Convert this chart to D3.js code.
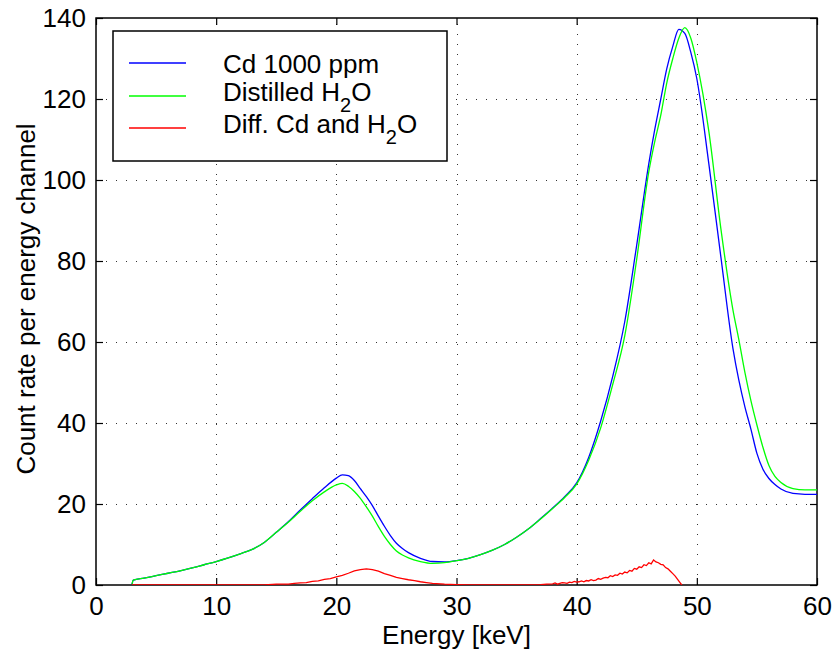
<!DOCTYPE html>
<html>
<head>
<meta charset="utf-8">
<script src="https://cdn.jsdelivr.net/npm/d3@7"></script>
<style>
  body { margin: 0; background: #fff; }
  svg text { font-family: "Liberation Sans", Arial, Helvetica, sans-serif; fill: #000; }
</style>
</head>
<body>
<svg id="chart" width="832" height="652"></svg>
<script>
// energy channels (keV) for the two measured spectra
const energy = [3, 3.1, 4, 5, 6, 7, 8, 9, 10, 11, 12, 13, 14, 15, 16, 17, 18, 19, 20,
  20.5, 21, 21.5, 22, 22.5, 23, 23.5, 24, 24.5, 25, 25.5,
  26, 27, 28, 29, 30, 31, 32, 33, 34, 35, 36, 37, 38, 39, 40, 41, 42, 43, 44, 45, 46,
  46.5, 47, 47.5, 48, 48.5, 49, 49.5, 50, 51, 52, 53,
  53.5, 54, 54.5, 55, 55.5, 56, 56.5, 57, 58, 59, 60]
const cd1000 = [0.2, 1.2, 1.7, 2.3, 2.9, 3.5, 4.2, 5.0, 5.8, 6.7, 7.7, 8.8, 10.5, 13.0, 15.6, 18.5, 21.3, 24.0, 26.4,
  27.2, 27.0, 25.8, 23.8, 21.8, 19.6, 17.0, 14.5, 12.2, 10.3, 9.0,
  8.0, 6.6, 5.8, 5.7, 6.0, 6.6, 7.5, 8.6, 10.0, 11.8, 13.9, 16.4, 19.0, 21.8, 25.2, 31.5, 40.5, 51.5, 65, 84, 104,
  112.5, 120, 127.5, 133, 137.2, 136.2, 131.5, 125, 104, 81, 58.5,
  50.5, 44, 38.5, 32.5, 28.6, 26.3, 24.8, 23.7, 22.6, 22.4, 22.4]
const water = [0.2, 1.2, 1.7, 2.3, 2.9, 3.5, 4.2, 5.0, 5.8, 6.7, 7.7, 8.8, 10.5, 13.0, 15.5, 18.2, 20.8, 23.0, 24.7,
  25.1, 24.4, 23.1, 21.4, 19.3, 17.0, 14.4, 12.0, 10.0, 8.4, 7.4,
  6.7, 5.8, 5.35, 5.5, 6.0, 6.6, 7.5, 8.6, 10.0, 11.8, 13.9, 16.3, 18.9, 21.6, 24.9, 30.8, 38.8, 49.5, 61.5, 80.5, 102,
  109.5, 116, 124, 130, 135, 137.6, 135, 129, 112, 88, 68,
  60.5, 52.5, 45.5, 39.5, 34, 29.5, 26.8, 25.3, 23.8, 23.5, 23.5]

const diffEnergy = [3, 14, 15, 16, 16.5, 17, 17.5, 18, 18.5, 19, 19.5, 20, 20.5, 21, 21.5, 22, 22.5, 23, 23.5, 24,
  24.5, 25, 25.5, 26, 26.5, 27, 27.5, 28, 29, 30, 31, 36, 37, 37.5,
  38.0, 38.2, 38.4, 38.6, 38.8, 39.0, 39.2, 39.4, 39.6, 39.8, 40.0, 40.2, 40.4, 40.6, 40.8, 41.0, 41.2, 41.4, 41.6, 41.8,
  42.0, 42.2, 42.4, 42.6, 42.8, 43.0, 43.2, 43.4, 43.6, 43.8, 44.0, 44.2, 44.4, 44.6, 44.8, 45.0, 45.2, 45.4, 45.6, 45.8,
  46.0, 46.2, 46.4, 46.6, 46.8, 47.0, 47.2, 47.4, 47.6, 47.8, 48.0, 48.2, 48.4, 48.6, 48.75]
const diffCd = [0, 0, 0.2, 0.2, 0.4, 0.5, 0.6, 0.9, 1.0, 1.4, 1.6, 2.0, 2.4, 2.9, 3.5, 3.8, 4.0, 3.8, 3.4, 2.8,
  2.4, 1.9, 1.6, 1.3, 1.1, 0.8, 0.6, 0.4, 0.2, 0.1, 0, 0, 0.1, 0.2,
  0.3, 0.5, 0.2, 0.4, 0.6, 0.5, 0.4, 0.7, 0.6, 0.9, 0.7, 0.8, 1.0, 0.8, 1.1, 1.0, 1.3, 1.1, 1.2, 1.6,
  1.4, 1.7, 1.9, 1.8, 2.3, 2.1, 2.5, 2.4, 2.9, 2.7, 3.2, 3.0, 3.6, 3.4, 4.1, 3.9, 4.5, 4.3, 5.0, 4.8,
  5.5, 5.2, 6.2, 5.7, 5.5, 5.1, 5.0, 4.3, 4.0, 3.4, 2.8, 2.2, 1.4, 0.6, 0]

const xTicks = [0, 10, 20, 30, 40, 50, 60]
const yTicks = [0, 20, 40, 60, 80, 100, 120, 140]

const plotLeft = 96, plotRight = 817, plotTop = 18, plotBottom = 585

const svg = d3.select('#chart')

const x = d3.scaleLinear().domain([0, 60]).range([plotLeft, plotRight])
const y = d3.scaleLinear().domain([0, 140]).range([plotBottom, plotTop])

svg.append('clipPath').attr('id', 'plotclip')
  .append('rect').attr('x', plotLeft).attr('y', plotTop).attr('width', plotRight - plotLeft).attr('height', plotBottom - plotTop)

// dotted grid
const grid = svg.append('g').attr('stroke', '#333').attr('stroke-width', 1).attr('stroke-dasharray', '1,9')
grid.selectAll('line.gx').data(xTicks.slice(1, -1)).join('line')
  .attr('x1', d => Math.round(x(d)) + 0.5).attr('x2', d => Math.round(x(d)) + 0.5)
  .attr('y1', plotBottom).attr('y2', plotTop)
grid.selectAll('line.gy').data(yTicks.slice(1, -1)).join('line')
  .attr('y1', d => Math.round(y(d)) + 0.5).attr('y2', d => Math.round(y(d)) + 0.5)
  .attr('x1', plotLeft).attr('x2', plotRight)

// axes with inward ticks on all four sides
const tk = 7
svg.append('g').attr('transform', `translate(0,${plotBottom})`)
  .call(d3.axisBottom(x).tickValues(xTicks).tickSize(-tk).tickPadding(12))
svg.append('g').attr('transform', `translate(0,${plotTop})`)
  .call(d3.axisTop(x).tickValues(xTicks).tickSize(-tk).tickFormat(''))
svg.append('g').attr('transform', `translate(${plotLeft},0)`)
  .call(d3.axisLeft(y).tickValues(yTicks).tickSize(-tk).tickPadding(10))
svg.append('g').attr('transform', `translate(${plotRight},0)`)
  .call(d3.axisRight(y).tickValues(yTicks).tickSize(-tk).tickFormat(''))

svg.selectAll('.domain').remove()
svg.selectAll('.tick line').attr('stroke', '#000').attr('stroke-width', 1.2)
svg.selectAll('.tick text').attr('font-size', 26).attr('font-family', '"Liberation Sans", Arial, sans-serif')

svg.append('rect').attr('x', plotLeft).attr('y', plotTop).attr('width', plotRight - plotLeft).attr('height', plotBottom - plotTop)
  .attr('fill', 'none').attr('stroke', '#000').attr('stroke-width', 1.5)

// curves
const spectra = energy.map((e, i) => ({e: e, cd: cd1000[i], w: water[i]}))
const diff = diffEnergy.map((e, i) => ({e: e, v: diffCd[i]}))

const plot = svg.append('g').attr('clip-path', 'url(#plotclip)')
plot.append('path').datum(spectra)
  .attr('fill', 'none').attr('stroke', '#0000ff').attr('stroke-width', 1.3)
  .attr('d', d3.line().x(d => x(d.e)).y(d => y(d.cd)).curve(d3.curveMonotoneX))
plot.append('path').datum(spectra)
  .attr('fill', 'none').attr('stroke', '#00ff00').attr('stroke-width', 1.3)
  .attr('d', d3.line().x(d => x(d.e)).y(d => y(d.w)).curve(d3.curveMonotoneX))
plot.append('path').datum(diff)
  .attr('fill', 'none').attr('stroke', '#ff0000').attr('stroke-width', 1.3)
  .attr('d', d3.line().x(d => x(d.e)).y(d => y(d.v)))

// axis titles
svg.append('text').attr('x', (plotLeft + plotRight) / 2).attr('y', 644)
  .attr('text-anchor', 'middle').attr('font-size', 26).text('Energy [keV]')
svg.append('text').attr('transform', 'translate(35,299) rotate(-90)')
  .attr('text-anchor', 'middle').attr('font-size', 26).text('Count rate per energy channel')

// legend
const legend = svg.append('g')
legend.append('rect').attr('x', 113).attr('y', 31).attr('width', 334).attr('height', 130)
  .attr('fill', '#fff').attr('stroke', '#000').attr('stroke-width', 1.5)

const legendColors = ['#0000ff', '#00ff00', '#ff0000']
const legendRows = [63, 96, 128]
legend.selectAll('line.key').data(legendColors).join('line')
  .attr('x1', 129).attr('x2', 186)
  .attr('y1', (d, i) => legendRows[i]).attr('y2', (d, i) => legendRows[i])
  .attr('stroke', d => d).attr('stroke-width', 1.3)

const t1 = legend.append('text').attr('x', 223).attr('y', 73).attr('font-size', 26)
t1.text('Cd 1000 ppm')
const t2 = legend.append('text').attr('x', 223).attr('y', 101).attr('font-size', 26)
t2.append('tspan').text('Distilled H')
t2.append('tspan').attr('dy', 11).attr('font-size', 20).text('2')
t2.append('tspan').attr('dy', -11).text('O')
const t3 = legend.append('text').attr('x', 223).attr('y', 133).attr('font-size', 26)
t3.append('tspan').text('Diff. Cd and H')
t3.append('tspan').attr('dy', 11).attr('font-size', 20).text('2')
t3.append('tspan').attr('dy', -11).text('O')
</script>
</body>
</html>
